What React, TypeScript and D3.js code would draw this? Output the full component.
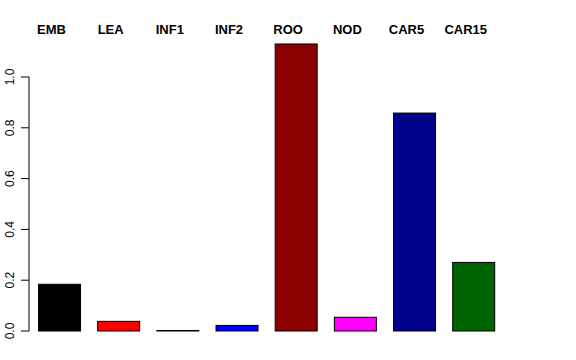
import React from "react";
import * as d3 from "d3";

const categories = ["EMB", "LEA", "INF1", "INF2", "ROO", "NOD", "CAR5", "CAR15"];
const values = [0.184, 0.038, 0.002, 0.022, 1.13, 0.054, 0.858, 0.27];
const colors = ["#000000", "#FF0000", "#228B22", "#0000FF", "#8B0000", "#FF00FF", "#00008B", "#006400"];
const yTicks = [0, 0.2, 0.4, 0.6, 0.8, 1.0];

export default function App() {
  const W = 576, H = 360;
  const y = d3.scaleLinear().domain([0, 1]).range([331, 77]);
  const x = d3.scaleBand<string>().domain(categories).range([38.5, 494.7]).paddingInner(0.29).paddingOuter(0);
  const fmt = d3.format(".1f");
  const font = "'Liberation Sans', Arial, Helvetica, sans-serif";
  return (
    <div style={{ position: "absolute", left: 0, top: 0 }}>
      <svg width={W} height={H} style={{ display: "block", background: "#fff" }}>
        {categories.map((c, i) => (
          <rect key={c} x={x(c)} y={y(values[i])} width={x.bandwidth()} height={y(0) - y(values[i])}
            fill={colors[i]} stroke="#000" strokeWidth={1} />
        ))}
        {categories.map((c) => (
          <text key={c} x={(x(c) as number) + x.bandwidth() / 2 - 8} y={34} textAnchor="middle"
            fontFamily={font} fontWeight="bold" fontSize={13}>{c}</text>
        ))}
        <line x1={29} x2={29} y1={y(1)} y2={y(0)} stroke="#000" strokeWidth={1} />
        {yTicks.map((t) => (
          <g key={t}>
            <line x1={21} x2={29} y1={y(t)} y2={y(t)} stroke="#000" strokeWidth={1} />
            <text transform={`translate(13.5,${y(t)}) rotate(-90)`} textAnchor="middle"
              fontFamily={font} fontSize={12}>{fmt(t)}</text>
          </g>
        ))}
      </svg>
    </div>
  );
}
